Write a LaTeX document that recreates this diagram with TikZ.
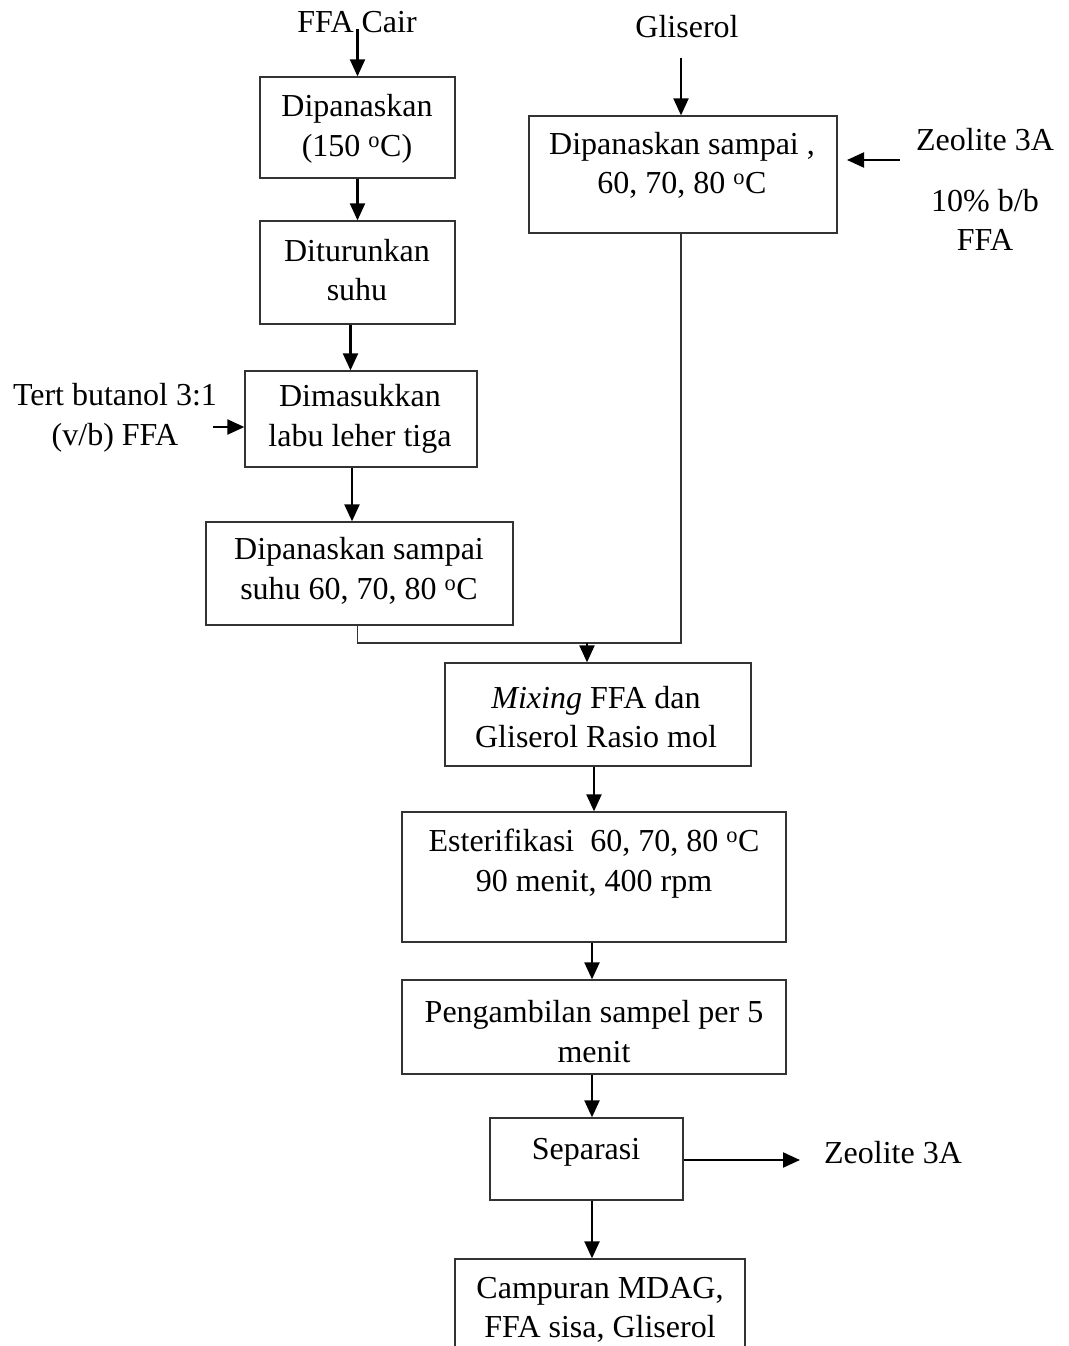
\documentclass[tikz,border=0pt]{standalone}
\usepackage{fontspec}
\setmainfont{Liberation Serif}
\usetikzlibrary{arrows.meta,calc}
\begin{document}
\begin{tikzpicture}[x=1pt,y=-1pt,
  box/.style={draw=black!80, line width=1.3pt, rectangle, inner sep=0pt},
  txt/.style={align=center, inner sep=0pt, font=\fontsize{32}{39.5}\selectfont},
  arr/.style={line width=2.2pt, -{Triangle[width=15pt,length=17pt]}},
  ln/.style={line width=1.3pt, draw=black!80}]
\clip (0,0) rectangle (1068,1346);
\fill[white] (0,0) rectangle (1068,1346);
% left column
\node[txt] (ffa) at (357,22) {FFA Cair};
\node[box, minimum width=195pt, minimum height=101pt] (b1) at (357.5,127.5) {};
\node[txt] (t1) at (357,129) {Dipanaskan\\(150 \textsuperscript{o}C)};
\node[box, minimum width=195pt, minimum height=103pt] (b2) at (357.5,272.5) {};
\node[txt] (t2) at (357,270) {Diturunkan\\suhu};
\node[box, minimum width=232pt, minimum height=96pt] (b3) at (361,419) {};
\node[txt] (t3) at (360,419) {Dimasukkan\\labu leher tiga};
\node[box, minimum width=307pt, minimum height=103pt] (b4) at (359.5,573.5) {};
\node[txt] (t4) at (359,571) {Dipanaskan sampai\\suhu 60, 70, 80 \textsuperscript{o}C};
\node[txt] (tb) at (115,418) {Tert butanol 3:1\\(v/b) FFA};
\coordinate (tbA) at (213,427);
% right column
\node[txt] (gl) at (687,27) {Gliserol};
\coordinate (glA) at (681,58);
\node[box, minimum width=308pt, minimum height=117pt] (b5) at (683,174.5) {};
\node[txt] (t5) at (682,165.5) {Dipanaskan sampai ,\\60, 70, 80 \textsuperscript{o}C};
\node[txt] (zeo) at (985,140) {Zeolite 3A};
\node[txt] (zeo2) at (985,220) {10\% b/b\\FFA};
\coordinate (zA) at (900,160);
\coordinate (zB) at (847,160);
% lower chain
\coordinate (m) at (587,643);
\node[box, minimum width=306pt, minimum height=103pt] (b6) at (598,714.5) {};
\node[txt] (t6) at (596,717) {\textit{Mixing} FFA dan\\Gliserol Rasio mol};
\node[box, minimum width=384pt, minimum height=130pt] (b7) at (594,877) {};
\node[txt] (t7) at (594,863.5) {Esterifikasi\ \ 60, 70, 80 \textsuperscript{o}C\\90 menit, 400 rpm};
\node[box, minimum width=384pt, minimum height=94pt] (b8) at (594,1027) {};
\node[txt] (t8) at (594,1031.5) {Pengambilan sampel per 5\\menit};
\node[box, minimum width=193pt, minimum height=82pt] (b9) at (586.5,1159) {};
\node[txt] (t9) at (586,1152) {Separasi};
\node[txt] (zeo3) at (893,1153) {Zeolite 3A};
\coordinate (sepA) at (800,1160);
\node[box, minimum width=290pt, minimum height=111pt] (b10) at (600,1314.5) {};
\node[txt] (t10) at (600,1310) {Campuran MDAG,\\FFA sisa, Gliserol};
% connectors
\draw[arr] (ffa.south -| b1.north) ++(0,-4) -- (b1.north);
\draw[arr] (b1.south) -- (b2.north);
\draw[arr] ([xshift=-7pt]b2.south) -- ([xshift=-7pt]b2.south |- b3.north);
\draw[arr] ([xshift=-9pt]b3.south) -- ([xshift=-9pt]b3.south |- b4.north);
\draw[arr] (tbA) -- (b3.west |- tbA);
\draw[arr] (glA) -- (glA |- b5.north);
\draw[arr] (zA) -- (zB);
\draw[ln] ([xshift=-2pt]b4.south) |- (m);
\draw[ln] ([xshift=-2pt]b5.south) |- (m);
\draw[arr] (m) -- (m |- b6.north);
\draw[arr] (b6.south -| b7.north) -- (b7.north);
\draw[arr] ([xshift=-2pt]b7.south) -- ([xshift=-2pt]b8.north);
\draw[arr] ([xshift=-2pt]b8.south) -- ([xshift=-2pt]b8.south |- b9.north);
\draw[arr] (b9.east |- sepA) -- (sepA);
\draw[arr] ([xshift=-2pt]b8.south |- b9.south) -- ([xshift=-2pt]b8.south |- b10.north);
\end{tikzpicture}
\end{document}
